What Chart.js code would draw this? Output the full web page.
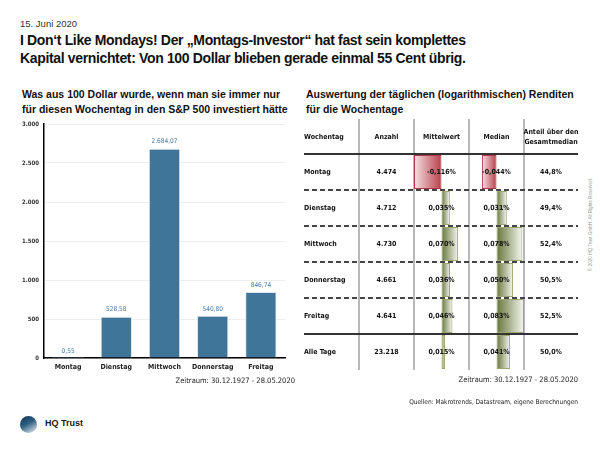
<!DOCTYPE html>
<html>
<head>
<meta charset="utf-8">
<script src="https://cdn.jsdelivr.net/npm/chart.js@4.4.1/dist/chart.umd.min.js"></script>
<style>
  body { margin: 0; width: 600px; height: 450px; position: relative; overflow: hidden; background: #fff;
         font-family: "Liberation Sans", Arial, sans-serif; color: #111; }
  .abs { position: absolute; }
  .narrow { font-family: "Liberation Sans Narrow", "DejaVu Sans Condensed", "Liberation Sans", sans-serif; }
  #date { left: 20px; top: 18px; font-size: 9.5px; color: #333; }
  #title { left: 20px; top: 31px; font-size: 14px; letter-spacing: -0.35px; font-weight: bold; line-height: 18px; white-space: nowrap; }
  .sub { top: 87px; font-size: 10.5px; font-weight: bold; line-height: 15px; white-space: nowrap; }
  #leftBox { left: 0; top: 110px; width: 300px; height: 268px; }
  .note { font-size: 7.5px; color: #222; white-space: nowrap; }
  .vline { width: 2px; background: #b8b8b8; top: 119px; height: 251px; }
  .hsolid { left: 304px; width: 274px; height: 1.5px; background: #333; }
  .hdash { left: 304px; width: 274px; height: 1.5px;
           background: repeating-linear-gradient(90deg, #444 0 5px, transparent 5px 8px); }
  .cell { font-size: 7px; font-weight: bold; display: flex; align-items: center; justify-content: center;
          text-align: center; z-index: 5; line-height: 10px; white-space: nowrap; }
  .cell.first { justify-content: flex-start; }
  .barBox { top: 154px; width: 55px; height: 216px; z-index: 1; }
  #copy { left: 540px; top: 222px; width: 100px; font-size: 4.6px; color: #999; text-align: center;
          transform: rotate(-90deg); white-space: nowrap; }
  #logoIcon { left: 20px; top: 416px; width: 17px; height: 17px; border-radius: 50%;
              background: linear-gradient(150deg, #0b3558 0%, #2f5f80 45%, #a9bfcd 80%, #eef2f5 100%); }
  #logoText { left: 45px; top: 418px; font-size: 9px; font-weight: bold; color: #1a1a1a; }
</style>
</head>
<body>
<div id="date" class="abs">15. Juni 2020</div>
<div id="title" class="abs">I Don‘t Like Mondays! Der „Montags-Investor“ hat fast sein komplettes<br>Kapital vernichtet: Von 100 Dollar blieben gerade einmal 55 Cent übrig.</div>

<div class="abs sub" style="left:22px">Was aus 100 Dollar wurde, wenn man sie immer nur<br>für diesen Wochentag in den S&amp;P 500 investiert hätte</div>
<div class="abs sub" style="left:306px">Auswertung der täglichen (logarithmischen) Renditen<br>für die Wochentage</div>

<div id="leftBox" class="abs"><canvas id="weekChart"></canvas></div>
<div class="abs note narrow" style="right:305px; top:376px">Zeitraum: 30.12.1927 - 28.05.2020</div>

<div id="table"></div>
<div class="abs barBox" style="left:414px"><canvas id="meanChart"></canvas></div>
<div class="abs barBox" style="left:469px"><canvas id="medianChart"></canvas></div>

<div class="abs note narrow" style="right:22px; top:375px">Zeitraum: 30.12.1927 - 28.05.2020</div>
<div class="abs note narrow" style="right:22px; top:398px; font-size:6.5px">Quellen: Makrotrends, Datastream, eigene Berechnungen</div>

<div id="copy" class="abs">© 2020 HQ Trust GmbH. All Rights Reserved.</div>
<div id="logoIcon" class="abs"></div>
<div id="logoText" class="abs">HQ Trust</div>

<script>
// left chart: end value of 100 $ per weekday
const days = ['Montag', 'Dienstag', 'Mittwoch', 'Donnerstag', 'Freitag'];
const endValues = [0.55, 528.58, 2684.07, 540.80, 846.74];

// right table
const tableHeader = ['Wochentag', 'Anzahl', 'Mittelwert', 'Median', 'Anteil über den<br>Gesamtmedian'];
const tableRows = ['Montag', 'Dienstag', 'Mittwoch', 'Donnerstag', 'Freitag', 'Alle Tage'];
const counts = [4474, 4712, 4730, 4661, 4641, 23218];
const meanReturns = [-0.116, 0.035, 0.070, 0.036, 0.046, 0.015];
const medianReturns = [-0.044, 0.031, 0.078, 0.050, 0.083, 0.041];
const shareAboveMedian = [44.8, 49.4, 52.4, 50.5, 52.5, 50.0];

const NARROW = '"Liberation Sans Narrow", "DejaVu Sans Condensed", "Liberation Sans", sans-serif';

function de(v, d) {
  const parts = v.toFixed(d).split('.');
  const i = parts[0].replace(/\B(?=(\d{3})+(?!\d))/g, '.');
  return parts[1] ? i + ',' + parts[1] : i;
}

const valueLabels = {
  id: 'valueLabels',
  afterDatasetsDraw(chart) {
    const ctx = chart.ctx;
    ctx.save();
    ctx.font = '6.5px ' + NARROW;
    ctx.fillStyle = '#4278a6';
    ctx.textAlign = 'center';
    ctx.textBaseline = 'middle';
    chart.getDatasetMeta(0).data.forEach((bar, i) => {
      ctx.fillText(de(endValues[i], 2), bar.x, bar.y - 7);
    });
    ctx.restore();
  }
};

new Chart(document.getElementById('weekChart'), {
  type: 'bar',
  data: {
    labels: days,
    datasets: [{
      data: endValues,
      backgroundColor: '#3f7599',
      borderColor: '#dbe6ee',
      borderWidth: 1,
      barPercentage: 0.65,
      categoryPercentage: 1
    }]
  },
  options: {
    maintainAspectRatio: false,
    animation: false,
    events: [],
    layout: { padding: { top: 14, right: 15, left: 0, bottom: 0 } },
    plugins: { legend: { display: false }, tooltip: { enabled: false } },
    scales: {
      y: {
        min: 0, max: 3000,
        afterFit: s => { s.width = 44; },
        ticks: { stepSize: 500, padding: 5, color: '#333', font: { size: 6, weight: 'bold', family: NARROW },
                 callback: v => de(v, 0) },
        grid: { color: '#eeeeee', drawTicks: false },
        border: { color: '#000', width: 1.5 }
      },
      x: {
        afterFit: s => { s.height = 20; },
        ticks: { padding: 5, color: '#222', font: { size: 7, weight: 'bold', family: NARROW } },
        grid: { display: false, drawTicks: false },
        border: { color: '#000', width: 1.5 }
      }
    }
  },
  plugins: [valueLabels]
});

// table layout
const colEdges = [304, 359, 414, 469, 524, 578];
const rowTop = 154, rowH = 36;
const table = document.getElementById('table');
function addCell(html, col, top, h) {
  const d = document.createElement('div');
  d.className = 'abs cell narrow' + (col === 0 ? ' first' : '');
  d.style.left = colEdges[col] + 'px';
  d.style.width = (colEdges[col + 1] - colEdges[col]) + 'px';
  d.style.top = top + 'px';
  d.style.height = h + 'px';
  d.innerHTML = html;
  table.appendChild(d);
}
tableHeader.forEach((h, c) => addCell(h, c, 120, 34));
tableRows.forEach((name, r) => {
  const top = rowTop + r * rowH;
  addCell(name, 0, top, rowH);
  addCell(de(counts[r], 0), 1, top, rowH);
  addCell(de(meanReturns[r], 3) + '%', 2, top, rowH);
  addCell(de(medianReturns[r], 3) + '%', 3, top, rowH);
  addCell(de(shareAboveMedian[r], 1) + '%', 4, top, rowH);
});
[1, 2, 3, 4].forEach(c => {
  const v = document.createElement('div');
  v.className = 'abs vline';
  v.style.left = (colEdges[c] - 1) + 'px';
  table.appendChild(v);
});
for (let r = 0; r <= 5; r++) {
  const l = document.createElement('div');
  l.className = 'abs ' + (r === 0 || r === 5 ? 'hsolid' : 'hdash');
  l.style.top = (rowTop + r * rowH - 1) + 'px';
  l.style.zIndex = 3;
  table.appendChild(l);
}

// data bars inside the table
function barFill(context) {
  const chart = context.chart;
  const v = context.raw;
  if (!chart.chartArea) return v < 0 ? '#c0505a' : '#76843f';
  const xs = chart.scales.x;
  const x0 = xs.getPixelForValue(0), x1 = xs.getPixelForValue(v);
  const g = chart.ctx.createLinearGradient(x0, 0, x1, 0);
  if (v < 0) {
    g.addColorStop(0, '#b73f4b');
    g.addColorStop(1, '#f7e1e3');
  } else {
    g.addColorStop(0, '#66753a');
    g.addColorStop(1, '#f6f7f0');
  }
  return g;
}

function dataBars(id, values, limit) {
  new Chart(document.getElementById(id), {
    type: 'bar',
    data: {
      labels: tableRows,
      datasets: [{
        data: values,
        backgroundColor: barFill,
        borderColor: c => c.raw < 0 ? '#b23a48' : '#9aa670',
        borderWidth: 1,
        borderSkipped: false,
        barPercentage: 0.94,
        categoryPercentage: 1
      }]
    },
    options: {
      indexAxis: 'y',
      maintainAspectRatio: false,
      animation: false,
      events: [],
      layout: { padding: 0 },
      plugins: { legend: { display: false }, tooltip: { enabled: false } },
      scales: {
        x: { display: false, min: -limit, max: limit },
        y: { display: false }
      }
    }
  });
}
dataBars('meanChart', meanReturns, 0.116);
dataBars('medianChart', medianReturns, 0.083);
</script>
</body>
</html>
